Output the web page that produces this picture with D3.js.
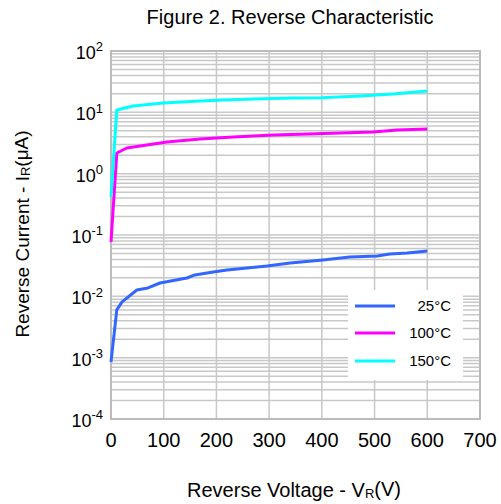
<!DOCTYPE html>
<html><head><meta charset="utf-8">
<script src="https://cdn.jsdelivr.net/npm/d3@7"></script>
<style>body{margin:0;background:#fff}svg{display:block}text{font-family:"Liberation Sans",Arial,sans-serif;fill:#000}</style>
</head><body><svg id="c" width="501" height="504"></svg>
<script>
const xTicks = [0,100,200,300,400,500,600,700];
const yExps = [2,1,0,-1,-2,-3,-4];
const seriesNames = ["25\u00B0C","100\u00B0C","150\u00B0C"];
const seriesColors = ["#3366ff","#ff00ff","#00ffff"];
const v25 = [0,11,21,49,70,93,144,159,194,220,258,296,340,402,453,505,529,562,600];
const i25 = [0.00085,0.0060,0.0081,0.0127,0.0137,0.0165,0.0199,0.0223,0.0249,0.0269,0.029,0.0313,0.035,0.0391,0.0438,0.0455,0.049,0.051,0.055];
const v100 = [0,11,30,68,106,169,232,308,359,435,497,543,600];
const i100 = [0.077,2.17,2.62,2.93,3.28,3.67,3.96,4.27,4.4,4.6,4.78,5.15,5.35];
const v150 = [0,11,42,99,169,213,270,345,400,473,535,600];
const i150 = [0.42,10.9,12.7,14.2,15.3,15.9,16.5,17.1,17.3,18.5,19.9,22.3];

const svg = d3.select("#c");
const L=111,R=480,T=51,B=419;
const x = d3.scaleLinear().domain([0,700]).range([L,R]);
const y = d3.scaleLog().domain([1e-4,1e2]).range([B,T]);
const grid = svg.append("g");
const hv=[];
for(let e=-4;e<2;e++){for(let m=1;m<10;m++)hv.push(m*Math.pow(10,e));}
hv.push(100);
grid.selectAll("line.h").data(hv).join("line").attr("x1",L).attr("x2",R)
 .attr("y1",d=>y(d)).attr("y2",d=>y(d)).attr("stroke","#c8c8c8").attr("stroke-width",1.5);
grid.selectAll("line.v").data(xTicks).join("line").attr("y1",T).attr("y2",B)
 .attr("x1",d=>x(d)).attr("x2",d=>x(d)).attr("stroke","#c8c8c8").attr("stroke-width",1.5);
svg.append("rect").attr("x",L).attr("y",T).attr("width",R-L).attr("height",B-T)
 .attr("fill","none").attr("stroke","#bbbbbb").attr("stroke-width",2);

const data=[[v25,i25],[v100,i100],[v150,i150]];
const line=d3.line().x(d=>x(d[0])).y(d=>y(d[1]));
data.forEach((s,k)=>{
  const pts=s[0].map((v,j)=>[v,s[1][j]]);
  svg.append("path").attr("d",line(pts)).attr("fill","none").attr("stroke",seriesColors[k]).attr("stroke-width",3).attr("stroke-linejoin","round");
});

// legend
svg.append("rect").attr("x",348).attr("y",290).attr("width",115).attr("height",90).attr("fill","#fff");
seriesNames.forEach((n,k)=>{
  const ly=[306,333,361][k];
  svg.append("line").attr("x1",355).attr("x2",395).attr("y1",ly).attr("y2",ly).attr("stroke",seriesColors[k]).attr("stroke-width",3);
  svg.append("text").attr("x",451).attr("y",ly).attr("dy","0.35em").attr("text-anchor","end").attr("font-size",15).text(n);
});

svg.selectAll("text.xt").data(xTicks).join("text").attr("x",d=>x(d)).attr("y",447)
 .attr("text-anchor","middle").attr("font-size",20).text(d=>d);
yExps.forEach(e=>{
  const t=svg.append("text").attr("x",103).attr("y",y(Math.pow(10,e))).attr("dy","0.45em").attr("text-anchor","end").attr("font-size",18);
  t.append("tspan").text("10");
  t.append("tspan").attr("dy","-0.6em").attr("font-size",13).text(e);
});
svg.append("text").attr("x",290).attr("y",24).attr("text-anchor","middle").attr("font-size",20).text("Figure 2. Reverse Characteristic");
const xl=svg.append("text").attr("x",294).attr("y",497).attr("text-anchor","middle").attr("font-size",20);
xl.append("tspan").text("Reverse Voltage - V");
xl.append("tspan").attr("font-size",13).attr("dy","0.1em").text("R");
xl.append("tspan").attr("dy","-0.1em").text("(V)");
const yl=svg.append("text").attr("transform","translate(29,234) rotate(-90)").attr("text-anchor","middle").attr("font-size",19);
yl.append("tspan").text("Reverse Current - I");
yl.append("tspan").attr("font-size",13).attr("dy","0.1em").text("R");
yl.append("tspan").attr("dy","-0.1em").text("(\u03BCA)");
</script></body></html>
